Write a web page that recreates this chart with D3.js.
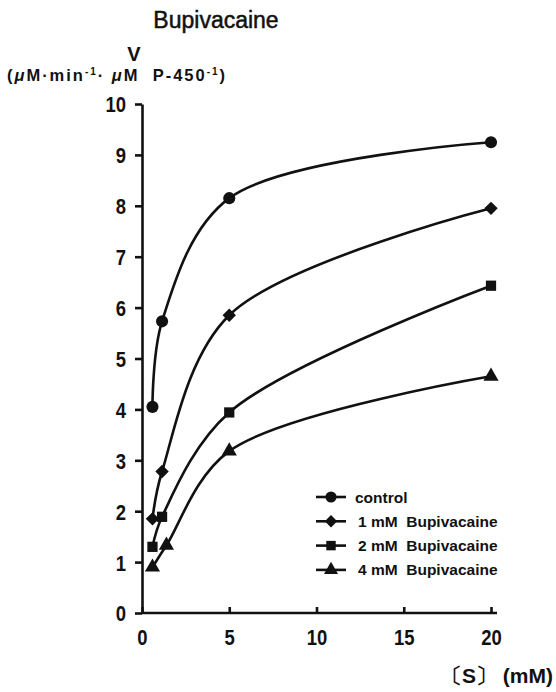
<!DOCTYPE html>
<html lang="en">
<head>
<meta charset="UTF-8">
<style>
  body { margin: 0; background: #fff; }
  svg { display: block; }
  .tick text { font-family: "Liberation Sans", Arial, sans-serif; font-weight: 700; }
</style>
<script src="https://d3js.org/d3.v7.min.js"></script>
</head>
<body>
<svg id="chart" width="556" height="692" xmlns="http://www.w3.org/2000/svg"></svg>
<script>
// data
const substrate = [0.6, 1.15, 5, 20];
const control = [4.05, 5.73, 8.15, 9.25];
const bup1 = [1.85, 2.78, 5.85, 7.95];
const bup2 = [1.3, 1.89, 3.94, 6.43];
const bup4x = [0.6, 1.4, 5, 20];
const bup4 = [0.9, 1.33, 3.18, 4.65];

const xTicks = [0, 5, 10, 15, 20];
const yTicks = [0, 1, 2, 3, 4, 5, 6, 7, 8, 9, 10];

const seriesNames = ["control", "1 mM  Bupivacaine", "2 mM  Bupivacaine", "4 mM  Bupivacaine"];
const seriesSymbols = ["circle", "diamond", "square", "triangle"];

const svg = d3.select("#chart");
const ink = "#111";
const font = "Liberation Sans, Arial, sans-serif";

// scales
const x = d3.scaleLinear().domain([0, 20]).range([142, 491]);
const y = d3.scaleLinear().domain([0, 10]).range([613, 104]);

// title + y label
svg.append("text")
  .attr("x", 216).attr("y", 28)
  .attr("text-anchor", "middle")
  .attr("font-family", font)
  .attr("font-size", "23px")
  .attr("fill", ink)
  .attr("stroke", ink).attr("stroke-width", 0.5)
  .text("Bupivacaine");

svg.append("text")
  .attr("x", 134).attr("y", 61)
  .attr("text-anchor", "middle")
  .attr("font-family", font)
  .attr("font-size", "20px").attr("font-weight", "700")
  .attr("fill", ink)
  .text("V");

const ylab = svg.append("text")
  .attr("x", 7).attr("y", 81)
  .attr("font-family", font)
  .attr("font-size", "16.5px").attr("font-weight", "700")
  .attr("fill", ink)
  .attr("textLength", 218)
  .attr("lengthAdjust", "spacing")
  .attr("xml:space", "preserve")
  .style("white-space", "pre");
ylab.append("tspan").text("(");
ylab.append("tspan").attr("font-style", "italic").text("μ");
ylab.append("tspan").text("M·min");
ylab.append("tspan").attr("dy", -6).attr("font-size", "10px").text("-1");
ylab.append("tspan").attr("dy", 6).text("· ");
ylab.append("tspan").attr("font-style", "italic").text("μ");
ylab.append("tspan").text("M  P-450");
ylab.append("tspan").attr("dy", -6).attr("font-size", "10px").text("-1");
ylab.append("tspan").attr("dy", 6).text(")");

// axes
const yAxis = svg.append("g")
  .attr("transform", `translate(${x(0)},0)`)
  .call(d3.axisLeft(y).tickValues(yTicks).tickSize(7).tickPadding(12).tickSizeOuter(0));
yAxis.selectAll("text")
  .attr("font-size", "22px").attr("dy", "0.36em")
  .attr("transform", "scale(0.84,1)");

const xAxis = svg.append("g")
  .attr("transform", `translate(0,${y(0)})`)
  .call(d3.axisBottom(x).tickValues(xTicks).tickSize(-6).tickPadding(16).tickSizeOuter(0));
xAxis.selectAll("text")
  .attr("font-size", "22px")
  .attr("transform", "scale(0.84,1)");
// stretch x axis slightly past the last tick, as in the figure
xAxis.select(".domain").attr("d", `M${x(0)},0H${x(20) + 6}`);

[yAxis, xAxis].forEach(g => {
  g.selectAll("line, path").attr("stroke", ink).attr("stroke-width", 2.6);
  g.selectAll("text").attr("fill", ink);
});

svg.append("text")
  .attr("x", 553).attr("y", 683)
  .attr("text-anchor", "end")
  .attr("font-family", font)
  .attr("font-size", "21px").attr("font-weight", "700")
  .attr("fill", ink)
  .attr("xml:space", "preserve")
  .style("white-space", "pre")
  .text("〔S〕 (mM)");

// series
const series = [
  { xs: substrate, ys: control },
  { xs: substrate, ys: bup1 },
  { xs: substrate, ys: bup2 },
  { xs: bup4x, ys: bup4 }
];

const symbolType = {
  circle: d3.symbolCircle,
  diamond: d3.symbolSquare,   // rotated below
  square: d3.symbolSquare,
  triangle: d3.symbolTriangle
};
const symbolSize = { circle: 115, diamond: 90, square: 105, triangle: 100 };
const symbolRot = { circle: 0, diamond: 45, square: 0, triangle: 0 };

const line = d3.line()
  .x(d => x(d[0]))
  .y(d => y(d[1]))
  .curve(d3.curveCatmullRom.alpha(0.5));

series.forEach((s, i) => {
  const pts = s.xs.map((v, j) => [v, s.ys[j]]);
  svg.append("path")
    .datum(pts)
    .attr("d", line)
    .attr("fill", "none")
    .attr("stroke", ink)
    .attr("stroke-width", 2.6);

  const sym = seriesSymbols[i];
  svg.selectAll(null)
    .data(pts)
    .enter()
    .append("path")
    .attr("transform", d => `translate(${x(d[0])},${y(d[1])}) rotate(${symbolRot[sym]})`)
    .attr("d", d3.symbol().type(symbolType[sym]).size(symbolSize[sym]))
    .attr("fill", ink);
});

// legend
const legend = svg.append("g").attr("transform", "translate(316,497)");
seriesNames.forEach((name, i) => {
  const g = legend.append("g").attr("transform", `translate(0,${i * 24.3})`);
  g.append("line")
    .attr("x1", 0).attr("x2", 30)
    .attr("y1", 0).attr("y2", 0)
    .attr("stroke", ink).attr("stroke-width", 2.6);
  const sym = seriesSymbols[i];
  g.append("path")
    .attr("transform", `translate(15,0) rotate(${symbolRot[sym]})`)
    .attr("d", d3.symbol().type(symbolType[sym]).size(symbolSize[sym] * 0.85))
    .attr("fill", ink);
  g.append("text")
    .attr("x", i === 0 ? 39 : 42).attr("y", 5.5)
    .attr("font-family", font)
    .attr("font-size", "15.5px").attr("font-weight", "700")
    .attr("fill", ink)
    .attr("xml:space", "preserve")
    .style("white-space", "pre")
    .text(name);
});
</script>
</body>
</html>
